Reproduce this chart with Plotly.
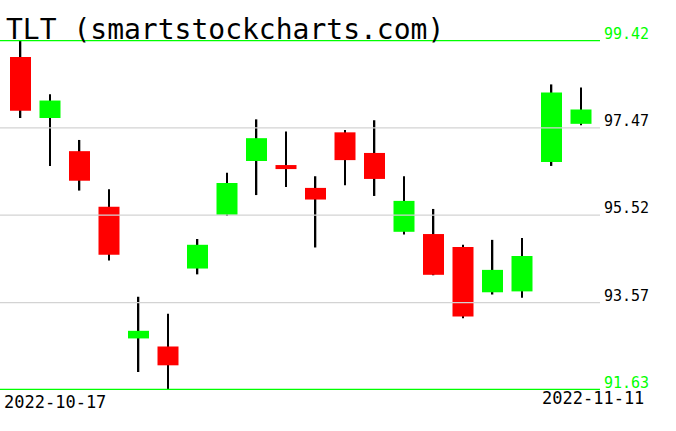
import plotly.graph_objects as go

# ---- data ----
dates = ["2022-10-17", "2022-10-18", "2022-10-19", "2022-10-20", "2022-10-21",
         "2022-10-24", "2022-10-25", "2022-10-26", "2022-10-27", "2022-10-28",
         "2022-10-31", "2022-11-01", "2022-11-02", "2022-11-03", "2022-11-04",
         "2022-11-07", "2022-11-08", "2022-11-09", "2022-11-10", "2022-11-11"]
opens = [99.05, 97.69, 96.95, 95.71, 92.77, 92.59, 94.33, 95.53, 96.73, 96.64,
         96.13, 97.37, 96.91, 95.15, 95.10, 94.81, 93.80, 93.82, 96.71, 97.56]
highs = [99.42, 98.22, 97.20, 96.10, 93.70, 93.32, 94.99, 96.47, 97.66, 97.39,
         96.39, 97.42, 97.64, 96.39, 95.66, 94.86, 94.97, 95.01, 98.44, 98.37]
lows = [97.69, 96.62, 96.07, 94.51, 92.02, 91.63, 94.20, 95.50, 95.97, 96.15,
        94.80, 96.19, 95.95, 95.09, 94.18, 93.22, 93.75, 93.68, 96.62, 97.53]
closes = [97.85, 98.08, 96.29, 94.64, 92.94, 92.17, 94.86, 96.24, 97.24, 96.55,
          95.87, 96.75, 96.33, 95.84, 94.19, 93.26, 94.30, 94.61, 98.26, 97.88]
price_ticks = [99.42, 97.47, 95.52, 93.57, 91.63]
price_labels = ["99.42", "97.47", "95.52", "93.57", "91.63"]
title_text = "TLT (smartstockcharts.com)"

UP = "#00ff00"
DOWN = "#ff0000"
GRID = "#d3d3d3"
FONT = "DejaVu Sans Mono"

x = list(range(len(dates)))

fig = go.Figure()

# wicks (thin bars from low to high)
fig.add_trace(go.Bar(x=x, y=[h - l for h, l in zip(highs, lows)], base=lows,
                     width=0.055, marker=dict(color="black", line=dict(width=0)),
                     hoverinfo="skip", showlegend=False))

# bodies
base = [min(o, c) for o, c in zip(opens, closes)]
height = [abs(c - o) for o, c in zip(opens, closes)]
colors = [UP if c >= o else DOWN for o, c in zip(opens, closes)]
fig.add_trace(go.Bar(x=x, y=height, base=base, width=0.712,
                     marker=dict(color=colors, line=dict(width=0)),
                     showlegend=False, customdata=dates))

ymin, ymax = min(price_ticks), max(price_ticks)
# half-pixel padding so the 1px edge lines fall on pixel centres
pad = 0.5 * (ymax - ymin) / 349.0
shapes = []
annotations = []
for v, lab in zip(price_ticks, price_labels):
    edge = v in (ymin, ymax)
    col = UP if edge else GRID
    shapes.append(dict(type="line", xref="paper", x0=0, x1=1, yref="y", y0=v, y1=v,
                       line=dict(color=col, width=1.5 if edge else 1.2), layer="above"))
    annotations.append(dict(text=lab, xref="paper", x=1, xanchor="left", xshift=2,
                            yref="y", y=v, yanchor="bottom", yshift=-4,
                            showarrow=False,
                            font=dict(family=FONT, size=15,
                                      color=UP if edge else "black")))

annotations.append(dict(text=title_text, xref="paper", x=0, xanchor="left", xshift=4,
                        yref="paper", y=1, yanchor="middle", yshift=11,
                        showarrow=False, font=dict(family=FONT, size=28, color="black")))
annotations.append(dict(text=dates[0], xref="paper", x=0, xanchor="left", xshift=2,
                        yref="paper", y=0, yanchor="top", yshift=0,
                        showarrow=False, font=dict(family=FONT, size=17, color="black")))
annotations.append(dict(text=dates[-1], xref="paper", x=1, xanchor="right", xshift=46,
                        yref="paper", y=0, yanchor="top", yshift=4,
                        showarrow=False, font=dict(family=FONT, size=17, color="black")))

fig.update_layout(
    width=676, height=431,
    margin=dict(l=0, r=76, t=40, b=41),
    paper_bgcolor="white", plot_bgcolor="white",
    showlegend=False,
    barmode="overlay",
    xaxis=dict(range=[-0.695, 19.644], visible=False, fixedrange=True),
    yaxis=dict(range=[ymin - pad, ymax + pad], visible=False, fixedrange=True),
    shapes=shapes, annotations=annotations,
)

fig.write_html("out.html",
               config={"displayModeBar": False},
               post_script="document.body.style.margin='0';document.body.style.padding='0';")
